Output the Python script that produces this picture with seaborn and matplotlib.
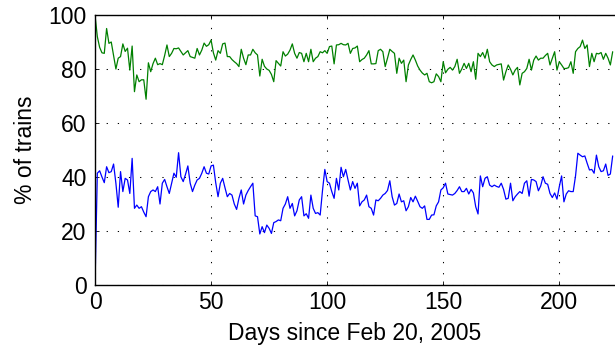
import numpy as np
import pandas as pd
import matplotlib
matplotlib.use("Agg")
import matplotlib.pyplot as plt
import seaborn as sns

green_vals = [100, 92, 88, 86, 85.8, 95, 89.5, 90, 85, 80, 84, 84.6, 89.3, 86.5, 87.7, 79.6,
    88.5, 71.6, 77.8, 75.3, 76, 76, 68.8, 82.3, 79, 82, 84, 81.6, 82, 81.6, 85, 88.9,
    84.6, 85.8, 87.6, 87.5, 87.8, 86.5, 85.2, 86, 86.8, 84.6, 84.3, 84, 87.6, 85.2, 87, 89.6,
    88.4, 89, 90.7, 86, 83.3, 86.8, 85.8, 89.3, 89.6, 84.6, 84.6, 83.5, 82.7, 82, 80.9, 87.3,
    84, 81.6, 85.2, 85.2, 87.3, 86, 85.2, 77.4, 83.6, 81, 80, 79.5, 78, 75.3, 83.1, 82.1,
    81.1, 86.4, 84.8, 85.5, 87, 89.3, 85.8, 84, 86.1, 85.8, 82.7, 85.8, 82.7, 87.3, 82.7, 84,
    84.6, 86.4, 86, 86.8, 85.8, 88.3, 88.5, 81.9, 88.9, 89, 89.5, 89, 88.9, 89.5, 85.8, 87.6,
    87.8, 88.5, 82.7, 83.5, 84, 85.2, 86.8, 81.9, 81.9, 82, 86.8, 87.3, 86.4, 80.9, 84, 87.3,
    86.5, 85.8, 78.4, 84, 82.1, 83.3, 75.3, 81.5, 83.5, 85.2, 83.3, 81.1, 79.6, 78.5, 77.8, 78.4,
    75.3, 74.9, 75.3, 78.2, 77.2, 75.3, 82.7, 78.6, 79.9, 80.6, 79.6, 80.9, 83.6, 78.4, 80, 82.1,
    80.2, 82.1, 79, 82.7, 76.2, 85.8, 84.6, 86.1, 84, 87.3, 82.7, 81.5, 80.9, 81.5, 81.7, 81.9,
    75.9, 79, 81.5, 79.9, 77.8, 79.6, 80.6, 74.1, 78.4, 79, 80.2, 83.6, 79.6, 83.3, 84.8, 83.3,
    84, 84, 85, 85.8, 81.5, 84, 86.4, 79.6, 82.7, 81.5, 80.2, 80.2, 80.5, 82.7, 78.4, 86.4,
    87.6, 88.3, 90.7, 87.6, 88.9, 80.9, 85.8, 82.7, 85.8, 85.6, 86.1, 83.6, 85.8, 84, 81.5, 86.4]

blue_vals = [0, 41.4, 42.3, 40, 37.9, 43.8, 41.6, 42, 44.8, 37.7, 28.8, 42, 34.6, 39.5, 38.9, 33.9,
    46.9, 28.4, 29.6, 28.4, 29, 27, 25.3, 32.7, 34.6, 35.2, 34.6, 36.4, 30, 37.7, 39.1, 36.4,
    33.9, 37.7, 41.4, 39.9, 49, 40.1, 38.3, 41, 44.1, 37.7, 34.6, 37, 38.9, 39.5, 41.4, 43.8,
    41.4, 41.1, 44.1, 44.4, 37.9, 32.7, 37.7, 39.5, 36, 32.7, 33.9, 33.3, 30, 28, 32.1, 35.2,
    30, 33.3, 35, 36.4, 37.7, 25.6, 25.3, 18.9, 21.6, 19.4, 22.2, 21, 19.1, 23.1, 23.5, 24.1,
    23.8, 28.4, 30, 32.7, 28.4, 30.2, 25.6, 27.5, 31.5, 32.7, 25.6, 26.4, 24.7, 33.3, 28.4, 26.5,
    26.8, 25.9, 35, 42.8, 38.3, 37.7, 34.6, 32.1, 39.5, 35.2, 43.6, 40.1, 42.8, 38.9, 35.2, 38.3,
    35.8, 37.7, 29.3, 30.8, 31.5, 33.3, 29, 28.4, 25.9, 31.5, 31.2, 32.1, 33.3, 33.9, 35, 38.6,
    32.7, 29.6, 30.2, 33.7, 30.8, 31.2, 27.5, 29, 32.4, 30.8, 32.9, 31, 29, 28.4, 29.3, 24.3,
    24.3, 25.9, 26, 29.3, 30.8, 35.2, 36, 37.7, 33.7, 33.5, 33.3, 33.9, 35, 36.4, 34.6, 34.6,
    35.8, 33.7, 35.4, 34.1, 29, 26.3, 40.4, 36.4, 39.5, 40.1, 37, 36.4, 37, 36.5, 36.2, 37.7,
    35.4, 31.8, 32.1, 37.7, 31.2, 32.7, 33.7, 34.6, 33.9, 37.7, 38.6, 32.9, 39.1, 38.9, 38.3, 34.9,
    36.7, 40.1, 37.7, 37.3, 33.9, 32.4, 34.1, 31.8, 36.4, 40.4, 30.8, 33.7, 34.9, 34.6, 34.6, 40.4,
    48.8, 48.1, 47.5, 47.8, 45.1, 42.6, 42.8, 41.4, 48.1, 43.8, 42, 42.3, 44.8, 40.6, 41.1, 47.8]

days = list(range(len(green_vals)))
x_ticks = [0, 50, 100, 150, 200]
y_ticks = [0, 20, 40, 60, 80, 100]

sns.set_theme(style="white")
plt.rcParams['font.family'] = ['Liberation Sans', 'DejaVu Sans']

fig = plt.figure(figsize=(6.15, 3.52), dpi=100)
ax = fig.add_axes([95/615, 1-285/352, 1-95/615, 270/352])

df_g = pd.DataFrame({"day": days, "pct": green_vals})
df_b = pd.DataFrame({"day": days, "pct": blue_vals})
sns.lineplot(data=df_g, x="day", y="pct", color=(0, 0.5, 0), lw=0.9, ax=ax)
sns.lineplot(data=df_b, x="day", y="pct", color=(0, 0, 1), lw=0.9, ax=ax)

ax.set_xlim(0, 224)
ax.set_ylim(0, 100)
ax.set_xticks(x_ticks)
ax.set_yticks(y_ticks)
ax.grid(True, color='black', linestyle=(0, (1.2, 9.5)), linewidth=0.75)
ax.tick_params(direction='in', length=3, width=0.6, colors='black', labelsize=16.5,
               top=True, bottom=True, left=True, right=False)
ax.tick_params(axis='y', pad=6)
ax.tick_params(axis='x', pad=4)
for s in ['left', 'bottom', 'top']:
    ax.spines[s].set_color('black')
    ax.spines[s].set_linewidth(1.0)
ax.spines['right'].set_visible(False)
ax.set_xlabel("Days since Feb 20, 2005", fontsize=16.5, color='black', labelpad=6)
ax.set_ylabel("% of trains", fontsize=16.5, color='black', labelpad=8)

fig.savefig("out.png", dpi=100)
